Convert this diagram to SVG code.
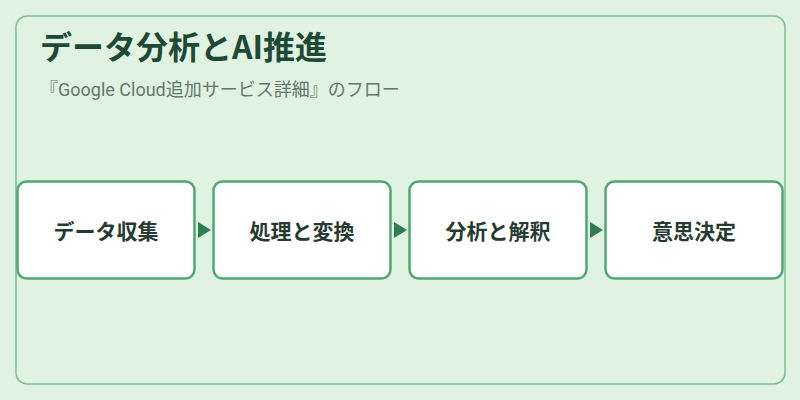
<svg xmlns="http://www.w3.org/2000/svg" width="800" height="400" viewBox="0 0 800 400">
<defs>
<style>
.node rect{fill:#ffffff;stroke:#4ea872;stroke-width:2.5}
.node text{font-family:"Noto Sans CJK JP","Noto Sans",sans-serif;font-size:21px;font-weight:700;fill:#253a30;text-anchor:middle;dominant-baseline:central}
.arrow{fill:#2e7d4f}
</style>
</defs>
<rect x="0" y="0" width="800" height="400" fill="#e0f2e0"/>
<rect x="16" y="16" width="769" height="368" rx="11" fill="none" stroke="#80bf96" stroke-width="1.6"/>
<text x="40" y="59" font-family="'Noto Sans CJK JP','Noto Sans',sans-serif" font-size="32" font-weight="700" fill="#1d4a37">データ分析とAI推進</text>
<text x="40" y="96" font-family="Roboto,'Noto Sans CJK JP',sans-serif" font-size="18" fill="#5f7a6a">『Google Cloud追加サービス詳細』のフロー</text>
<g id="connectors">
<polygon class="arrow" points="198,222 211,230 198,238"/>
<polygon class="arrow" points="394,222 407,230 394,238"/>
<polygon class="arrow" points="590,222 603,230 590,238"/>
</g>
<g id="node1" class="node"><rect x="17.5" y="181.5" width="177" height="97" rx="9"/><text x="106" y="230">データ収集</text></g>
<g id="node2" class="node"><rect x="213.5" y="181.5" width="177" height="97" rx="9"/><text x="302" y="230">処理と変換</text></g>
<g id="node3" class="node"><rect x="409.5" y="181.5" width="177" height="97" rx="9"/><text x="498" y="230">分析と解釈</text></g>
<g id="node4" class="node"><rect x="605.5" y="181.5" width="177" height="97" rx="9"/><text x="694" y="230">意思決定</text></g>
</svg>
